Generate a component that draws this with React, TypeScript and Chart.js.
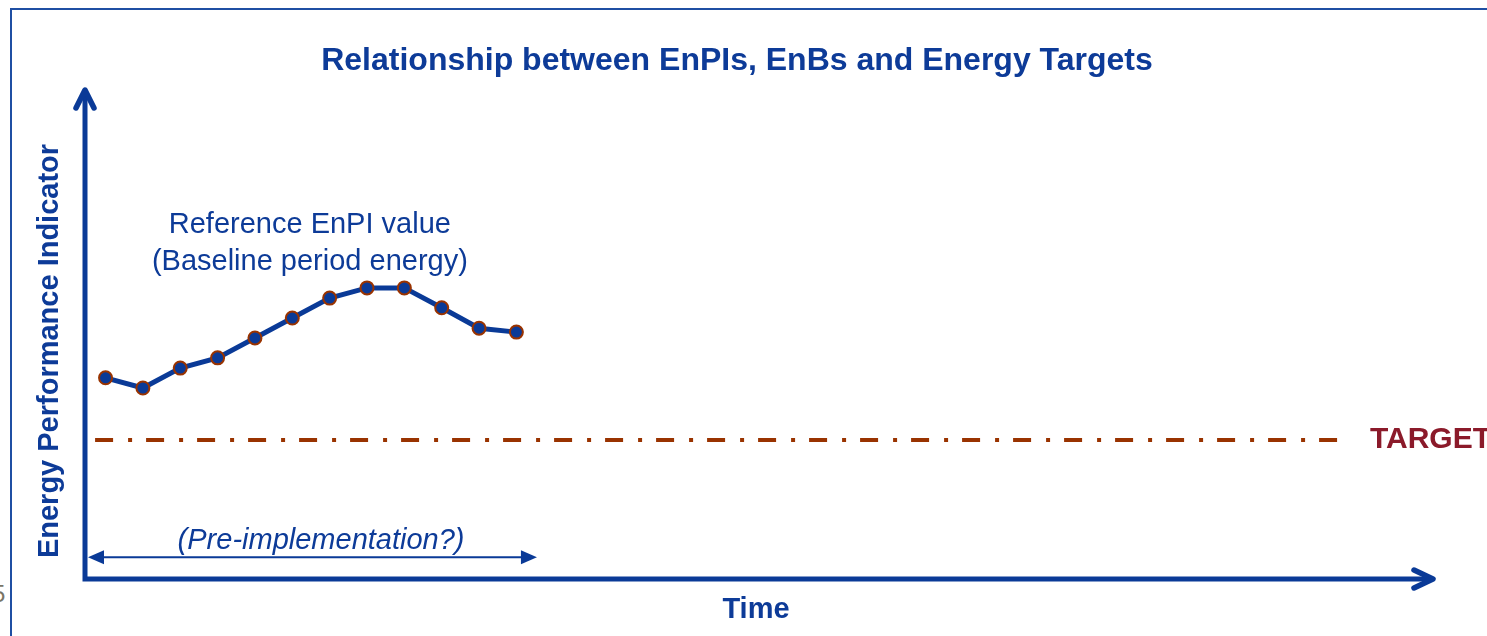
import { useEffect, useRef } from "react";
import { Chart, registerables } from "chart.js";

Chart.register(...registerables);

// ---- data ----
const periods = [1, 2, 3, 4, 5, 6, 7, 8, 9, 10, 11, 12];
const enpiValues = [41.4, 39.3, 43.4, 45.5, 49.6, 53.7, 57.8, 59.9, 59.9, 55.8, 51.6, 50.8];
const targetValue = 28.6;
const targetSpan = [0.72, 34.37];
const preImplSpan = [0.53, 12.55];
const preImplLevel = 4.5;

const titleText = "Relationship between EnPIs, EnBs and Energy Targets";
const yAxisTitle = "Energy Performance Indicator";
const xAxisTitle = "Time";
const refLabelLines = ["Reference EnPI value", "(Baseline period energy)"];
const refLabelPos = [6.47, 72.8, 65.2];
const preImplLabel = "(Pre-implementation?)";
const preImplLabelPos = [6.77, 7.8];
const targetLabel = "TARGET";
const targetLabelX = 34.85;

const BLUE = "#0a3a97";
const TEXT_BLUE = "#0d3b98";
const DASH_COLOR = "#993300";
const TARGET_TEXT = "#8b1a2a";
const FONT = "'Liberation Sans', Arial, sans-serif";

const overlay = {
  id: "overlay",
  beforeDatasetsDraw(chart: any) {
    const { ctx, chartArea, scales } = chart;
    const x = scales.x;
    const y = scales.y;
    ctx.save();
    // axes
    ctx.strokeStyle = BLUE;
    ctx.lineWidth = 5;
    ctx.lineCap = "butt";
    ctx.lineJoin = "miter";
    ctx.beginPath();
    ctx.moveTo(chartArea.left, chartArea.top - 2);
    ctx.lineTo(chartArea.left, chartArea.bottom);
    ctx.lineTo(chartArea.right, chartArea.bottom);
    ctx.stroke();
    // arrow heads (open chevrons)
    ctx.lineWidth = 5.5;
    ctx.lineCap = "round";
    ctx.lineJoin = "round";
    ctx.beginPath();
    ctx.moveTo(chartArea.left - 9, chartArea.top + 15);
    ctx.lineTo(chartArea.left, chartArea.top - 3);
    ctx.lineTo(chartArea.left + 9, chartArea.top + 15);
    ctx.stroke();
    ctx.beginPath();
    ctx.moveTo(chartArea.right - 19, chartArea.bottom - 9);
    ctx.lineTo(chartArea.right, chartArea.bottom);
    ctx.lineTo(chartArea.right - 19, chartArea.bottom + 9);
    ctx.stroke();

    // pre-implementation double arrow
    const ax0 = x.getPixelForValue(preImplSpan[0]);
    const ax1 = x.getPixelForValue(preImplSpan[1]);
    const ay = y.getPixelForValue(preImplLevel);
    ctx.lineWidth = 2;
    ctx.lineCap = "butt";
    ctx.beginPath();
    ctx.moveTo(ax0 + 10, ay);
    ctx.lineTo(ax1 - 10, ay);
    ctx.stroke();
    ctx.fillStyle = BLUE;
    ctx.beginPath();
    ctx.moveTo(ax0, ay);
    ctx.lineTo(ax0 + 16, ay - 7);
    ctx.lineTo(ax0 + 16, ay + 7);
    ctx.closePath();
    ctx.fill();
    ctx.beginPath();
    ctx.moveTo(ax1, ay);
    ctx.lineTo(ax1 - 16, ay - 7);
    ctx.lineTo(ax1 - 16, ay + 7);
    ctx.closePath();
    ctx.fill();

    // texts
    ctx.textBaseline = "middle";
    ctx.textAlign = "center";
    ctx.fillStyle = TEXT_BLUE;
    ctx.font = `bold 32px ${FONT}`;
    ctx.fillText(titleText, 737, 61);
    ctx.font = `bold 29px ${FONT}`;
    ctx.fillText(xAxisTitle, 756, 610);
    ctx.save();
    ctx.translate(50, 351);
    ctx.rotate(-Math.PI / 2);
    ctx.fillText(yAxisTitle, 0, 0);
    ctx.restore();

    ctx.font = `29px ${FONT}`;
    ctx.fillText(refLabelLines[0], x.getPixelForValue(refLabelPos[0]), y.getPixelForValue(refLabelPos[1]));
    ctx.fillText(refLabelLines[1], x.getPixelForValue(refLabelPos[0]), y.getPixelForValue(refLabelPos[2]));
    ctx.font = `italic 29px ${FONT}`;
    ctx.fillText(preImplLabel, x.getPixelForValue(preImplLabelPos[0]), y.getPixelForValue(preImplLabelPos[1]));

    ctx.textAlign = "left";
    ctx.fillStyle = TARGET_TEXT;
    ctx.font = `bold 30px ${FONT}`;
    ctx.fillText(targetLabel, x.getPixelForValue(targetLabelX), y.getPixelForValue(targetValue));
    ctx.restore();
  },
};

export default function App() {
  const canvasRef = useRef<HTMLCanvasElement | null>(null);

  useEffect(() => {
    const canvas = canvasRef.current;
    if (!canvas) return;
    const chart = new Chart(canvas, {
      type: "line",
      data: {
        datasets: [
          {
            label: "EnPI",
            data: periods.map((p, i) => ({ x: p, y: enpiValues[i] })),
            borderColor: BLUE,
            borderWidth: 5,
            pointRadius: 6.5,
            pointBackgroundColor: BLUE,
            pointBorderColor: DASH_COLOR,
            pointBorderWidth: 2,
            tension: 0,
          },
          {
            label: "Target",
            data: targetSpan.map((t) => ({ x: t, y: targetValue })),
            borderColor: DASH_COLOR,
            borderWidth: 4,
            borderDash: [18, 15, 4, 14],
            borderCapStyle: "butt",
            pointRadius: 0,
          },
        ],
      },
      plugins: [overlay],
      options: {
        responsive: false,
        animation: false,
        devicePixelRatio: 1,
        layout: { padding: { left: 85, right: 54, top: 93, bottom: 57 } },
        scales: {
          x: { type: "linear", min: 0.45, max: 36.54, display: false },
          y: { type: "linear", min: 0, max: 100, display: false },
        },
        plugins: {
          legend: { display: false },
          title: { display: false },
          tooltip: { enabled: false },
        },
      },
    } as any);
    return () => chart.destroy();
  }, []);

  return (
    <div style={{ position: "fixed", left: 0, top: 0, width: 1487, height: 636, overflow: "hidden", background: "#fff" }}>
      <div
        style={{
          position: "absolute",
          left: 10,
          top: 8,
          width: 1600,
          height: 800,
          borderLeft: "2px solid #1f4fa3",
          borderTop: "2px solid #1f4fa3",
        }}
      />
      <span
        style={{
          position: "absolute",
          left: -8,
          top: 580,
          fontFamily: FONT,
          fontSize: 24,
          color: "#7a7566",
          lineHeight: "28px",
        }}
      >
        5
      </span>
      <canvas ref={canvasRef} width={1487} height={636} style={{ position: "absolute", left: 0, top: 0 }} />
    </div>
  );
}
